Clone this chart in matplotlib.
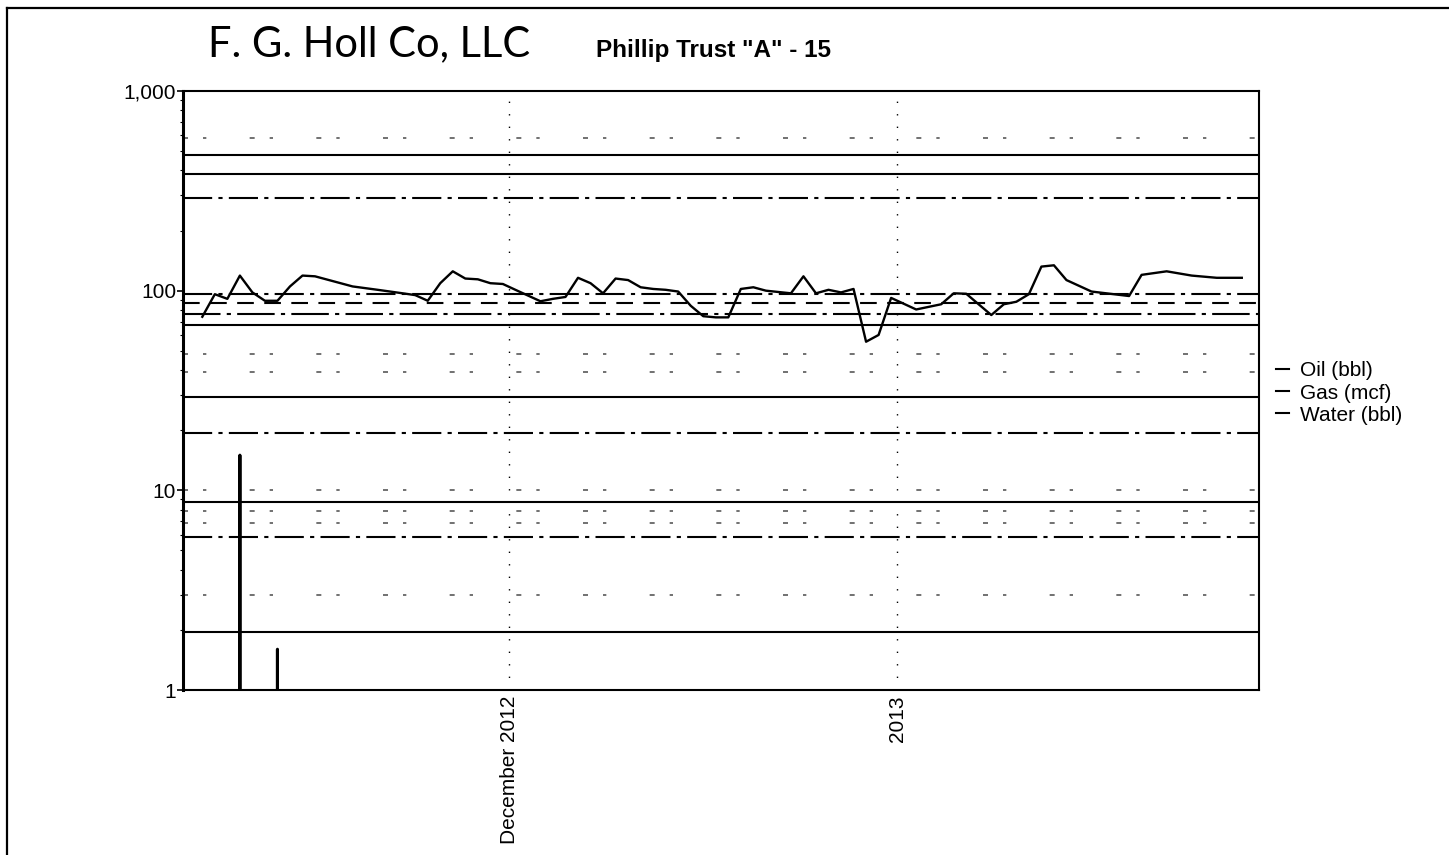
import matplotlib
matplotlib.use("Agg")
import matplotlib.pyplot as plt
from matplotlib.lines import Line2D
from matplotlib.ticker import FixedLocator, LogLocator, NullFormatter, FixedFormatter
import pandas as pd

plt.rcParams['font.family'] = ['Liberation Sans', 'DejaVu Sans']

# ---------------- data ----------------
oil_dates = ['2012-11-06', '2012-11-07', '2012-11-08', '2012-11-09', '2012-11-10', '2012-11-11',
             '2012-11-12', '2012-11-13', '2012-11-14', '2012-11-15', '2012-11-18', '2012-11-20',
             '2012-11-22', '2012-11-23', '2012-11-24', '2012-11-25', '2012-11-26', '2012-11-27',
             '2012-11-28', '2012-11-29', '2012-11-30', '2012-12-01', '2012-12-03', '2012-12-04',
             '2012-12-05', '2012-12-06', '2012-12-07', '2012-12-08', '2012-12-09', '2012-12-10',
             '2012-12-11', '2012-12-12', '2012-12-13', '2012-12-14', '2012-12-15', '2012-12-16',
             '2012-12-17', '2012-12-18', '2012-12-19', '2012-12-20', '2012-12-21', '2012-12-23',
             '2012-12-24', '2012-12-25', '2012-12-26', '2012-12-27', '2012-12-28', '2012-12-29',
             '2012-12-30', '2012-12-31', '2013-01-02', '2013-01-04', '2013-01-05', '2013-01-06',
             '2013-01-08', '2013-01-09', '2013-01-10', '2013-01-11', '2013-01-12', '2013-01-13',
             '2013-01-14', '2013-01-16', '2013-01-19', '2013-01-20', '2013-01-22', '2013-01-24',
             '2013-01-26', '2013-01-28']
oil_values = [74, 96, 91, 119, 98, 89,
              89, 105, 119, 118, 105, 101,
              97, 95, 89, 109, 125, 115,
              114, 109, 108, 101, 88.5, 91,
              93, 116, 109, 97, 115, 113,
              104, 102, 101, 99, 84, 74.5,
              73.5, 73.5, 102, 104, 100, 97,
              118, 97, 101, 98, 102, 55.5,
              60, 92, 80.5, 85.5, 97, 96.5,
              75.5, 85.5, 88, 96, 132, 134,
              113, 99, 94, 120, 125, 119,
              116, 116]

water_dates = ['2012-11-08', '2012-11-09', '2012-11-10', '2012-11-11', '2012-11-12', '2012-11-13']
water_values = [0, 15, 0, 0, 1.6, 0]

series_labels = ['Oil (bbl)', 'Gas (mcf)', 'Water (bbl)']

y_ticks = [1, 10, 100, 1000]
y_tick_labels = ['1', '10', '100', '1,000']
x_ticks = ['2012-12-01', '2013-01-01']
x_tick_labels = ['December 2012', '2013']

title_text = 'Phillip Trust "A" - 15'
company_text = 'F. G. Holl Co, LLC'

# horizontal reference (grid) levels as they appear on the chart
grid_levels = [477, 383, 290, 96, 87, 76.5, 67.5, 29.3, 19.4, 8.7, 5.85, 1.96]
faint_levels = [580, 48, 39, 10, 7.9, 6.9, 3]

# ---------------- styles ----------------
DD = (0, (14, 3, 2, 3))
grid_styles = ['-', '-', DD, DD, (0, (8, 5)), (0, (18, 3, 2, 3)), '-', '-', DD, '-', DD, '-']

W, H = 1449, 855
fig = plt.figure(figsize=(W / 100, H / 100), dpi=100)
fig.patch.set_facecolor('white')

ax_l, ax_r, ax_t, ax_b = 183, 1259, 91, 690
ax = fig.add_axes([ax_l / W, 1 - ax_b / H, (ax_r - ax_l) / W, (ax_b - ax_t) / H])
ax.set_yscale('log', nonpositive='clip')
ax.set_ylim(1, 1000)

half_day = pd.Timedelta(hours=12)
ox = pd.to_datetime(oil_dates) + half_day
wx = pd.to_datetime(water_dates) + half_day
ax.set_xlim(pd.Timestamp('2012-11-04 23:00'), pd.Timestamp('2013-01-29 21:00'))

for lvl, ls in zip(grid_levels, grid_styles):
    ax.axhline(lvl, color='black', lw=1.5, ls=ls, zorder=1)
for lvl in faint_levels:
    ax.axhline(lvl, color='0.35', lw=1.2, ls=(0, (3, 9, 2, 26)), zorder=1)

xt = pd.to_datetime(x_ticks)
for t in xt:
    ax.axvline(t, color='black', lw=1.0, ls=(0, (1, 8)), zorder=1)

ax.plot(ox, oil_values, color='black', lw=1.7, zorder=3, label=series_labels[0])
ax.plot(wx, water_values, color='black', lw=2.2, zorder=3, label=series_labels[2])

# axes styling
for s in ax.spines.values():
    s.set_linewidth(1.5)
    s.set_color('black')
ax.spines['left'].set_linewidth(2.2)

ax.yaxis.set_major_locator(FixedLocator(y_ticks))
ax.yaxis.set_major_formatter(FixedFormatter(y_tick_labels))
ax.yaxis.set_minor_locator(LogLocator(base=10, subs=range(2, 10)))
ax.yaxis.set_minor_formatter(NullFormatter())
ax.tick_params(axis='y', which='major', length=4, width=1.2, pad=1, labelsize=15)
ax.tick_params(axis='y', which='minor', length=2.5, width=0.8)

ax.set_xticks(xt)
ax.set_xticklabels(x_tick_labels, rotation=90, fontsize=15)
ax.xaxis.set_minor_locator(FixedLocator([]))
ax.tick_params(axis='x', which='major', length=0, pad=4)

# legend
handles = [Line2D([], [], color='black', lw=1.5) for _ in series_labels]
fig.legend(handles, series_labels, loc='center left',
           bbox_to_anchor=(1276 / W, 1 - 393 / H), bbox_transform=fig.transFigure,
           frameon=False, fontsize=15, handlelength=0.6, handletextpad=0.55,
           labelspacing=0.15, borderpad=0, borderaxespad=0)

# header texts
fig.text(208 / W, 1 - 44 / H, company_text, fontsize=30, ha='left', va='center',
         family=['Lato', 'DejaVu Sans'], fontweight='normal', color='black')
fig.text(596 / W, 1 - 50 / H, title_text, fontsize=17.5, ha='left', va='center',
         fontweight='bold', color='black')

# outer frame of the scanned page
fig.add_artist(Line2D([7 / W, 1], [1 - 8 / H, 1 - 8 / H], transform=fig.transFigure,
                      color='black', lw=1.6))
fig.add_artist(Line2D([7 / W, 7 / W], [0, 1 - 8 / H], transform=fig.transFigure,
                      color='black', lw=1.6))

fig.savefig('out.png', dpi=100, facecolor='white')
